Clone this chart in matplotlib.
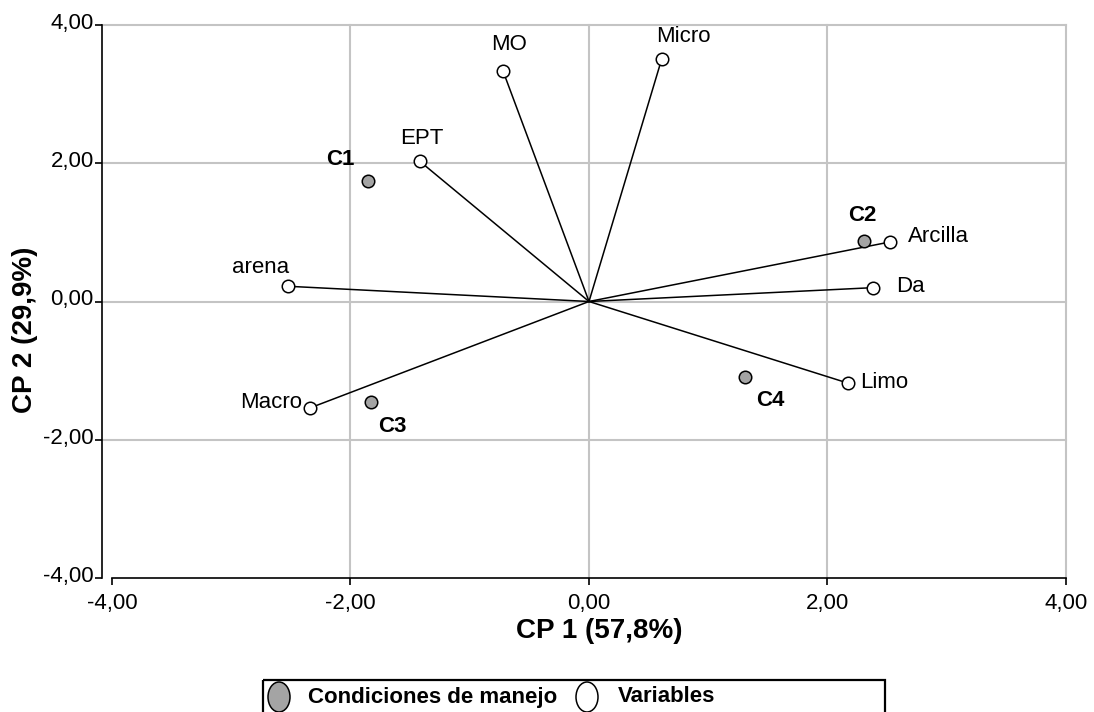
import matplotlib
matplotlib.use("Agg")
import matplotlib.pyplot as plt
from matplotlib.patches import Ellipse, Rectangle
from matplotlib.transforms import ScaledTranslation

plt.rcParams["font.family"] = ["Liberation Sans", "DejaVu Sans"]

# Variable loadings on the first two principal components
var_names = ["MO", "Micro", "EPT", "arena", "Macro", "Arcilla", "Da", "Limo"]
var_cp1 = [-0.72, 0.61, -1.42, -2.52, -2.34, 2.52, 2.38, 2.17]
var_cp2 = [3.33, 3.51, 2.03, 0.22, -1.54, 0.86, 0.20, -1.18]

# Management conditions (scores)
cond_names = ["C1", "C2", "C3", "C4"]
cond_cp1 = [-1.85, 2.31, -1.83, 1.31]
cond_cp2 = [1.75, 0.87, -1.46, -1.09]

ticks = [-4, -2, 0, 2, 4]
x_label = "CP 1 (57,8%)"
y_label = "CP 2 (29,9%)"
legend_labels = ["Condiciones de manejo", "Variables"]

# label offsets in pixels (dx, dy, ha)
var_offsets = {
    "MO": (6, 27, "center"), "Micro": (22, 22, "center"), "EPT": (2, 23, "center"),
    "arena": (-28, 19, "center"), "Macro": (-8, 5, "right"),
    "Arcilla": (18, 6, "left"), "Da": (23, 1, "left"), "Limo": (12, 1, "left"),
}
cond_offsets = {
    "C1": (-28, 21), "C2": (-2, 26), "C3": (22, -24), "C4": (25, -24),
}

W, H = 1094, 712
fig = plt.figure(figsize=(W / 100, H / 100), dpi=100)

left_px, right_px, top_px, bottom_px = 102, 1066, 25, 578
x0_px = 112
ax = fig.add_axes([left_px / W, 1 - bottom_px / H,
                   (right_px - left_px) / W, (bottom_px - top_px) / H])
units_per_px = 8 / (right_px - x0_px)
ax.set_xlim(-4 - (x0_px - left_px) * units_per_px, 4)
ax.set_ylim(-4, 4)

grid_col = "#c4c4c4"
for v in [-2, 0, 2, 4]:
    ax.axhline(v, color=grid_col, lw=1.5, zorder=0, clip_on=False)
    ax.axvline(v, color=grid_col, lw=1.5, zorder=0, clip_on=False)

for s in ["top", "right"]:
    ax.spines[s].set_visible(False)
ax.spines["bottom"].set_bounds(-4, 4)
for s in ["left", "bottom"]:
    ax.spines[s].set_linewidth(1.2)
    ax.spines[s].set_color("black")

fmt = lambda v: f"{v:.2f}".replace(".", ",")
ax.set_xticks(ticks)
ax.set_xticklabels([fmt(t) for t in ticks])
ax.set_yticks(ticks)
ax.set_yticklabels([fmt(t) for t in ticks])
ax.tick_params(axis="both", direction="out", length=5, width=1.2, labelsize=16, color="black")
ax.tick_params(axis="x", pad=6)
ax.tick_params(axis="y", pad=1)
for lab in ax.get_yticklabels():
    lab.set_transform(lab.get_transform() + ScaledTranslation(0, 3 / 72, fig.dpi_scale_trans))

# vectors from origin to each variable
for x, y in zip(var_cp1, var_cp2):
    ax.plot([0, x], [0, y], color="black", lw=1.1, zorder=2)
ax.plot(var_cp1, var_cp2, "o", ms=9, mfc="white", mec="black", mew=1.1, zorder=3)
ax.plot(cond_cp1, cond_cp2, "o", ms=9, mfc="#a4a4a4", mec="black", mew=1.1, zorder=3)

for n, x, y in zip(var_names, var_cp1, var_cp2):
    dx, dy, ha = var_offsets[n]
    ax.annotate(n, (x, y), xytext=(dx, dy), textcoords="offset pixels",
                ha=ha, va="center", fontsize=16)
for n, x, y in zip(cond_names, cond_cp1, cond_cp2):
    dx, dy = cond_offsets[n]
    ax.annotate(n, (x, y), xytext=(dx, dy), textcoords="offset pixels",
                ha="center", va="center", fontsize=16, fontweight="bold")

fig.text(599 / W, 1 - 631 / H, x_label, ha="center", va="center",
         fontsize=20, fontweight="bold")
fig.text(25 / W, 1 - 330 / H, y_label, ha="center", va="center",
         rotation=90, fontsize=20, fontweight="bold")

# legend box along the bottom edge
lg = fig.add_axes([0, 0, 1, 1], zorder=5)
lg.set_xlim(0, W)
lg.set_ylim(H, 0)
lg.axis("off")
lg.patch.set_visible(False)
lg.add_patch(Rectangle((263, 680), 622, 60, fill=False, ec="black", lw=1.6, clip_on=False))
lg.add_patch(Ellipse((279, 697), 22, 30, fc="#a4a4a4", ec="black", lw=1.1))
lg.add_patch(Ellipse((587, 697), 22, 30, fc="white", ec="black", lw=1.1))
lg.text(308, 697, legend_labels[0], ha="left", va="center", fontsize=16, fontweight="bold")
lg.text(618, 697, legend_labels[1], ha="left", va="center", fontsize=16, fontweight="bold")

fig.savefig("out.png", dpi=100)
